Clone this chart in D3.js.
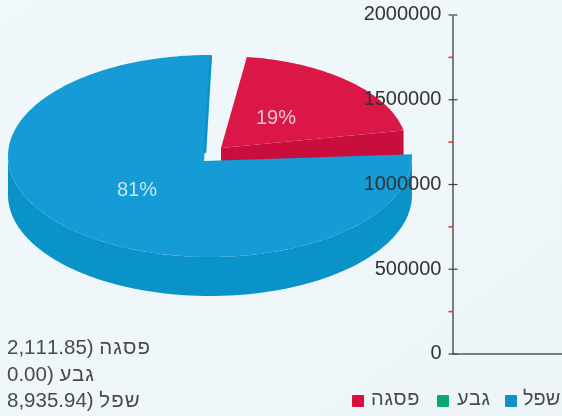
<!DOCTYPE html>
<html>
<head>
<meta charset="utf-8">
<script src="https://cdn.jsdelivr.net/npm/d3@7"></script>
<style>
    html, body { margin: 0; padding: 0; width: 562px; height: 416px; overflow: hidden; background: #eef6fa; }
    svg { display: block; filter: blur(0.5px); }
    text { font-family: "Liberation Sans", sans-serif; font-size: 20px; }
</style>
</head>
<body>
<div id="chart"></div>
<script>
const categories = ["פסגה", "גבע", "שפל"];
const values = [2111.85, 0, 8935.94];
const colors = ["#da1746", "#0aa96f", "#159bd5"];
const sideColors = ["#c90d3d", "#0a9060", "#0a93c9"];
const legendColors = ["#d9103f", "#0aa96f", "#0f8fcf"];
const axisTicks = [0, 500000, 1000000, 1500000, 2000000];
const minorTicks = [250000, 750000, 1250000, 1750000];

const width = 562;
const height = 416;
const rad = Math.PI / 180;

const svg = d3.select("#chart")
    .append("svg")
    .attr("width", width)
    .attr("height", height);

const defs = svg.append("defs");
const bg = defs.append("linearGradient").attr("id", "bg")
    .attr("x1", 0).attr("y1", 0).attr("x2", 1).attr("y2", 1);
bg.append("stop").attr("offset", "0%").attr("stop-color", "#f1f8fb");
bg.append("stop").attr("offset", "100%").attr("stop-color", "#edf5f9");
svg.append("rect").attr("width", width).attr("height", height).attr("fill", "url(#bg)");

// pie: the picture has perspective, so each slice has its own apex and rim
const pieData = d3.pie().sort(null).value(d => d)(values);
const depth = 39;
const slices = {
    0: { apex: [221, 148], cx: 221, cy: 148, rx: 186, ry: 92, from: 8, to: 79 },
    2: { apex: [204, 161], cx: 210, cy: 156, rx: 202, ry: 101, from: 89, to: 360.5 }
};

function rimPoint(s, deg, dy = 0) {
    return [s.cx + s.rx * Math.sin(deg * rad), s.cy - s.ry * Math.cos(deg * rad) + dy];
}

function rim(s, from, to, dy = 0) {
    const n = Math.ceil(Math.abs(to - from));
    return d3.range(n + 1).map(i => rimPoint(s, from + (to - from) * i / n, dy));
}

const line = d3.line();
const pieGroup = svg.append("g");

function drawSlice(i) {
    const s = slices[i];
    const a = d3.scaleLinear()
        .domain([pieData[i].startAngle, pieData[i].endAngle])
        .range([s.from, s.to]);
    const start = a(pieData[i].startAngle);
    const end = a(pieData[i].endAngle);

    if (i === 0) {
        // front wall below the closing edge
        const e = rimPoint(s, end);
        pieGroup.append("path")
            .attr("d", line([s.apex, e, [e[0], e[1] + depth], [s.apex[0], s.apex[1] + depth]]) + "Z")
            .attr("fill", sideColors[i]);
    } else {
        // outer wall, only the part facing us
        const wallFrom = Math.max(start, 89);
        const wallTo = Math.min(end, 270);
        const pts = rim(s, wallFrom, wallTo).concat(rim(s, wallTo, wallFrom, depth));
        pieGroup.append("path")
            .attr("d", line(pts) + "Z")
            .attr("fill", sideColors[i]);
    }

    pieGroup.append("path")
        .attr("d", line([s.apex].concat(rim(s, start, end))) + "Z")
        .attr("fill", colors[i]);

    if (i === 2) {
        // thin dark edge along the notch
        const e = rimPoint(s, end);
        pieGroup.append("line")
            .attr("x1", s.apex[0] + 1).attr("y1", s.apex[1] - 8)
            .attr("x2", e[0] - 1).attr("y2", e[1] + 1)
            .attr("stroke", sideColors[i])
            .attr("stroke-width", 2.5);
    }
}

drawSlice(0);
drawSlice(2);

const percent = d3.format(".0%");
const total = d3.sum(values);
const pieLabels = [
    { i: 0, x: 276, y: 124 },
    { i: 2, x: 137, y: 196 }
];
pieGroup.selectAll(".pct")
    .data(pieLabels)
    .enter()
    .append("text")
    .attr("class", "pct")
    .attr("x", d => d.x)
    .attr("y", d => d.y)
    .attr("text-anchor", "middle")
    .attr("fill", "#ffffff")
    .attr("fill-opacity", 0.75)
    .text(d => percent(values[d.i] / total));

// Y axis
const y = d3.scaleLinear().domain([0, 2000000]).range([354, 15]);
const axisX = 452.5;

const yAxis = svg.append("g")
    .attr("transform", `translate(${axisX},0)`)
    .call(d3.axisLeft(y).tickValues(axisTicks).tickSize(0).tickSizeOuter(0).tickPadding(11).tickFormat(d3.format("d")));
yAxis.select(".domain").attr("stroke", "#555").attr("stroke-width", 1.5);
yAxis.selectAll("text")
    .attr("dy", "0.24em")
    .style("font-size", "20px")
    .style("font-family", "'Liberation Sans', sans-serif")
    .attr("fill", "#333");

svg.selectAll(".major")
    .data(axisTicks)
    .enter()
    .append("line")
    .attr("class", "major")
    .attr("x1", axisX - 4)
    .attr("x2", axisX + 5)
    .attr("y1", d => y(d))
    .attr("y2", d => y(d))
    .attr("stroke", "#444")
    .attr("stroke-width", 1.2);

svg.selectAll(".minor")
    .data(minorTicks)
    .enter()
    .append("line")
    .attr("class", "minor")
    .attr("x1", axisX - 4)
    .attr("x2", axisX)
    .attr("y1", d => y(d))
    .attr("y2", d => y(d))
    .attr("stroke", "#f03030")
    .attr("stroke-width", 1.6);

svg.append("line")
    .attr("x1", axisX)
    .attr("x2", width)
    .attr("y1", y(0))
    .attr("y2", y(0))
    .attr("stroke", "#555")
    .attr("stroke-width", 1.5);

// value list, bottom left
const number = d3.format(",.2f");
const rows = svg.selectAll(".valueRow")
    .data(categories)
    .enter()
    .append("text")
    .attr("class", "valueRow")
    .attr("x", 7)
    .attr("y", (d, i) => 354 + i * 26.5)
    .attr("fill", "#4a4a4a")
    .style("font-size", "20.5px");
rows.append("tspan")
    .attr("letter-spacing", 1)
    .text(d => d);
rows.append("tspan")
    .text(d => ` (${number(values[categories.indexOf(d)])}`);

// legend, bottom right
const legendX = [352, 437, 505];
const legend = svg.selectAll(".legendItem")
    .data(categories)
    .enter()
    .append("g")
    .attr("class", "legendItem")
    .attr("transform", (d, i) => `translate(${legendX[i]},395)`);
legend.append("rect")
    .attr("width", 12)
    .attr("height", 12)
    .attr("rx", 1)
    .attr("fill", (d, i) => legendColors[i]);
legend.append("text")
    .attr("x", (d, i) => [19, 20, 18][i])
    .attr("y", 10)
    .attr("fill", "#4a4a4a")
    .attr("letter-spacing", (d, i) => i === 2 ? 0 : 0.7)
    .text(d => d);
</script>
</body>
</html>
